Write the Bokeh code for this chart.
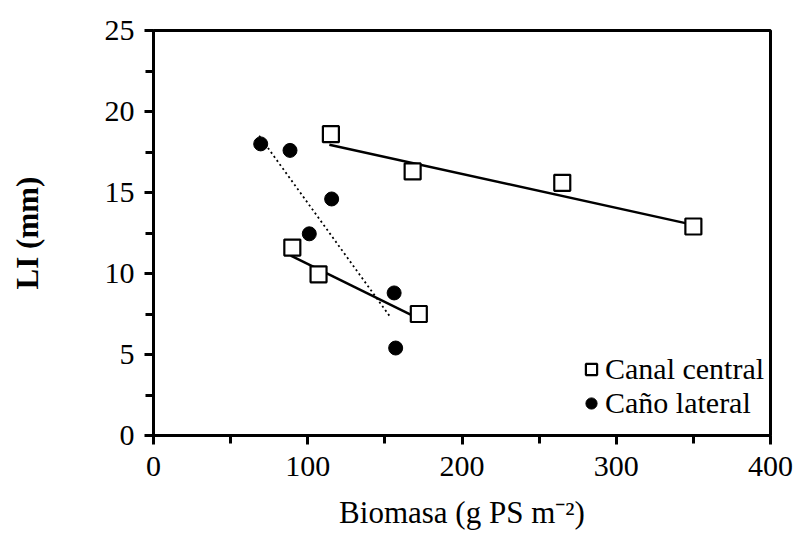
from bokeh.plotting import figure
from bokeh.models import Range1d, Legend, LegendItem, FixedTicker
from bokeh.embed import file_html
from bokeh.resources import INLINE

# Canal central (squares)
canal_x = [115, 168, 265, 350, 90, 107, 172]
canal_y = [18.6, 16.3, 15.6, 12.9, 11.6, 9.95, 7.5]
# Caño lateral (filled circles)
cano_x = [69.5, 88.5, 115.5, 101, 156, 157]
cano_y = [18.0, 17.6, 14.6, 12.45, 8.8, 5.4]

# Regression lines (end points)
canal_fit_hi_x = [114, 350]
canal_fit_hi_y = [17.95, 13.0]
canal_fit_lo_x = [89, 169]
canal_fit_lo_y = [11.1, 7.35]
cano_fit_x = [68.5, 154]
cano_fit_y = [18.5, 7.25]

x_ticks = [0, 100, 200, 300, 400]
y_ticks = [0, 5, 10, 15, 20, 25]

FONT = "'Liberation Serif', serif"

p = figure(width=806, height=537, output_backend="svg", toolbar_location=None,
           x_range=Range1d(0, 400), y_range=Range1d(0, 25),
           min_border_left=153, min_border_right=36, min_border_top=30, min_border_bottom=102)

p.grid.visible = False
p.outline_line_color = "black"
p.outline_line_width = 3
p.background_fill_color = "white"
p.border_fill_color = "white"

for ax in (p.xaxis[0], p.yaxis[0]):
    ax.axis_line_width = 3
    ax.axis_line_color = "black"
    ax.major_tick_line_width = 3
    ax.minor_tick_line_width = 3
    ax.major_tick_out = 9
    ax.major_tick_in = 0
    ax.minor_tick_out = 8
    ax.minor_tick_in = 0
    ax.major_label_text_font = FONT
    ax.major_label_text_font_size = "30px"
    ax.major_label_text_color = "black"
    ax.axis_label_text_font = FONT
    ax.axis_label_text_font_size = "31px"
    ax.axis_label_text_font_style = "normal"
    ax.axis_label_text_color = "black"

p.xaxis.ticker = FixedTicker(ticks=x_ticks, minor_ticks=[50, 150, 250, 350])
p.yaxis.ticker = FixedTicker(ticks=y_ticks, minor_ticks=[2.5, 7.5, 12.5, 17.5, 22.5])
p.xaxis.major_label_standoff = 12
p.yaxis.major_label_standoff = 10
p.xaxis.axis_label = "Biomasa (g PS m\u207b\u00b2)"
p.yaxis.axis_label = "LI (mm)"
p.yaxis.axis_label_text_font_style = "bold"
p.xaxis.axis_label_standoff = 16
p.yaxis.axis_label_standoff = 57

p.line(canal_fit_hi_x, canal_fit_hi_y, line_color="black", line_width=2.5)
p.line(canal_fit_lo_x, canal_fit_lo_y, line_color="black", line_width=2.5)
p.line(cano_fit_x, cano_fit_y, line_color="black", line_width=1.8, line_dash="2 3")

r_sq = p.scatter(canal_x, canal_y, marker="square", size=16, fill_color="white",
                 line_color="black", line_width=2.2)
r_ci = p.scatter(cano_x, cano_y, marker="circle", size=14, fill_color="black",
                 line_color="black")

legend = Legend(items=[LegendItem(label="Canal central", renderers=[r_sq]),
                       LegendItem(label="Caño lateral", renderers=[r_ci])],
                location=(424, 15), orientation="vertical")
legend.border_line_color = None
legend.background_fill_alpha = 0
legend.padding = 0
legend.margin = 0
legend.spacing = 0
legend.glyph_width = 28
legend.glyph_height = 28
legend.label_standoff = 0
legend.label_text_font = FONT
legend.label_text_font_size = "30px"
legend.label_text_color = "black"
p.add_layout(legend)

open("out.html", "w").write(file_html(p, INLINE))
